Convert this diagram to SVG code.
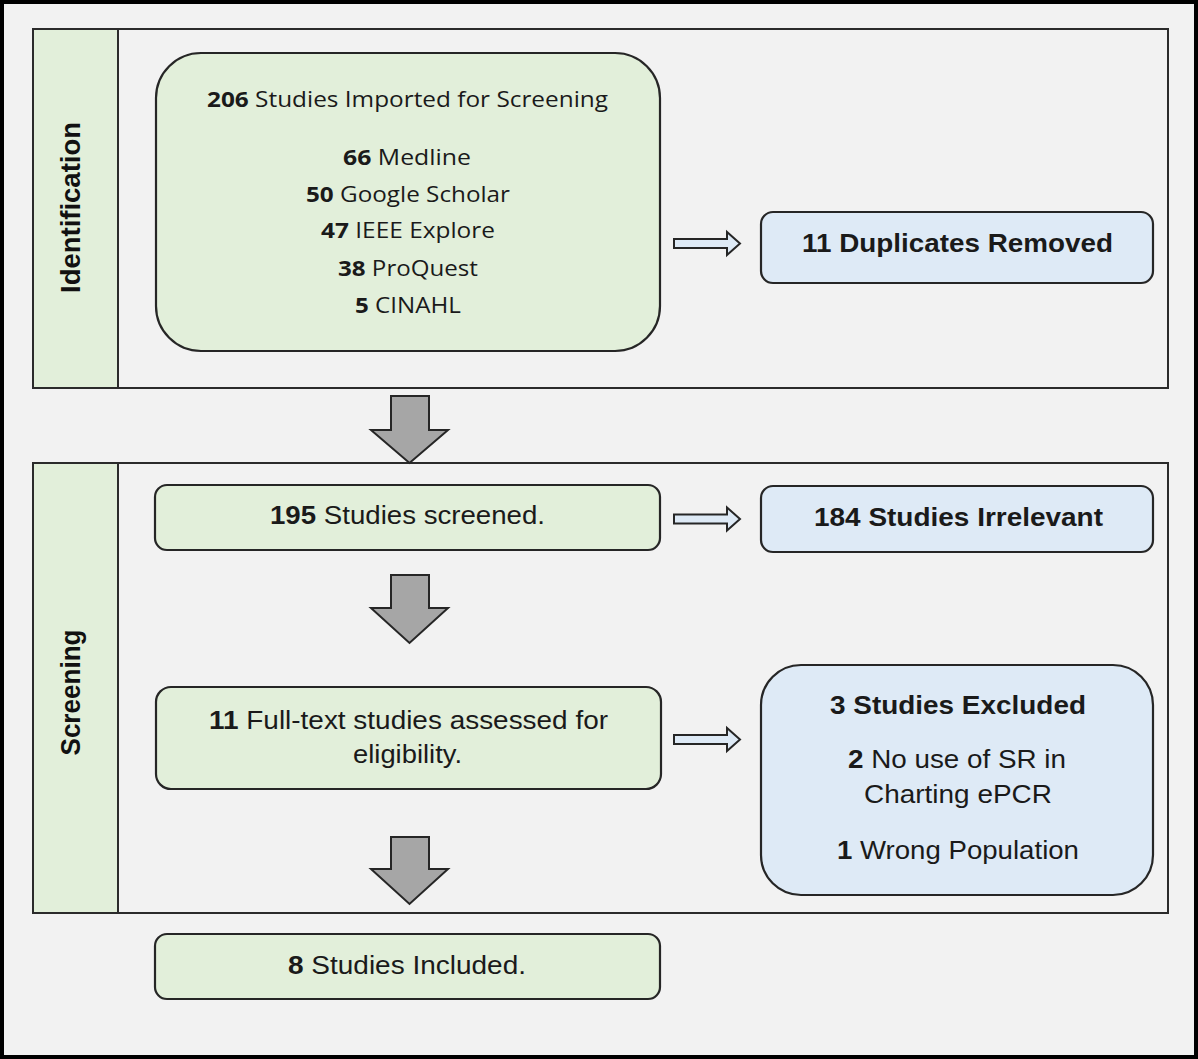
<svg xmlns="http://www.w3.org/2000/svg" xmlns:xlink="http://www.w3.org/1999/xlink" width="1198" height="1059" viewBox="0 0 1198 1059">
<style>
.bg{fill:#f2f2f2}
.panel{fill:#f2f2f2;stroke:#2b2b2b;stroke-width:2}
.strip{fill:#e2efda;stroke:#2b2b2b;stroke-width:2}
.green{fill:#e2efda;stroke:#262626;stroke-width:2.2}
.blue{fill:#deeaf6;stroke:#262626;stroke-width:2.2}
.cal{font-family:"Open Sans","Noto Sans",sans-serif;font-size:22px;fill:#1a1a1a;text-anchor:middle}
.ar{font-family:"Liberation Sans",Arial,sans-serif;font-size:25px;fill:#1a1a1a;text-anchor:middle}
.lbl{font-family:"Liberation Sans",Arial,sans-serif;font-size:28px;font-weight:bold;fill:#111;text-anchor:middle}
.b{font-weight:bold}
.big{fill:#a6a6a6;stroke:#262626;stroke-width:2}
.hol{fill:#deeaf6;stroke:#262626;stroke-width:2}
</style>
<defs>
<path id="hollow" d="M0,-4.5 H53 V-11.5 L66,0 L53,11.5 V4.5 H0 Z"/>
</defs>
<rect class="bg" x="0" y="0" width="1198" height="1059"/>
<rect x="2" y="2" width="1194" height="1055" fill="none" stroke="#000" stroke-width="4"/>

<g id="phase-identification">
<rect class="panel" x="33" y="29" width="1135" height="359"/>
<rect class="strip" x="33" y="29" width="85" height="359"/>
<text class="lbl" transform="translate(80,207.5) rotate(-90)" textLength="171" lengthAdjust="spacingAndGlyphs">Identification</text>
</g>

<g id="phase-screening">
<rect class="panel" x="33" y="463" width="1135" height="450"/>
<rect class="strip" x="33" y="463" width="85" height="450"/>
<text class="lbl" transform="translate(80,692.5) rotate(-90)" textLength="126" lengthAdjust="spacingAndGlyphs">Screening</text>
</g>

<g id="connectors">
<path class="big" d="M391,396 H429 V430 H448 L409.5,463 L371,430 H391 Z"/>
<path class="big" d="M391,575 H429 V608 H448 L409.5,643 L371,608 H391 Z"/>
<path class="big" d="M391,837 H429 V869 H448 L409.5,904 L371,869 H391 Z"/>
<use xlink:href="#hollow" href="#hollow" class="hol" transform="translate(674,243.5)"/>
<use xlink:href="#hollow" href="#hollow" class="hol" transform="translate(674,519)"/>
<use xlink:href="#hollow" href="#hollow" class="hol" transform="translate(674,739.5)"/>
</g>

<g id="node-imported">
<rect class="green" x="156" y="53" width="504" height="298" rx="45"/>
<text class="cal" x="407.5" y="107" textLength="401" lengthAdjust="spacingAndGlyphs"><tspan class="b">206</tspan> Studies Imported for Screening</text>
<text class="cal" x="407" y="165" textLength="128" lengthAdjust="spacingAndGlyphs"><tspan class="b">66</tspan> Medline</text>
<text class="cal" x="408" y="202" textLength="204" lengthAdjust="spacingAndGlyphs"><tspan class="b">50</tspan> Google Scholar</text>
<text class="cal" x="408" y="238" textLength="174" lengthAdjust="spacingAndGlyphs"><tspan class="b">47</tspan> IEEE Explore</text>
<text class="cal" x="408" y="276" textLength="140" lengthAdjust="spacingAndGlyphs"><tspan class="b">38</tspan> ProQuest</text>
<text class="cal" x="408" y="313" textLength="106" lengthAdjust="spacingAndGlyphs"><tspan class="b">5</tspan> CINAHL</text>
</g>

<g id="node-duplicates">
<rect class="blue" x="761" y="212" width="392" height="71" rx="12"/>
<text class="ar b" x="957.5" y="252" textLength="311" lengthAdjust="spacingAndGlyphs">11 Duplicates Removed</text>
</g>

<g id="node-screened">
<rect class="green" x="155" y="485" width="505" height="65" rx="12"/>
<text class="ar" x="407.5" y="524" textLength="275" lengthAdjust="spacingAndGlyphs"><tspan class="b">195</tspan> Studies screened.</text>
</g>

<g id="node-irrelevant">
<rect class="blue" x="761" y="486" width="392" height="66" rx="12"/>
<text class="ar b" x="958.5" y="526" textLength="289" lengthAdjust="spacingAndGlyphs">184 Studies Irrelevant</text>
</g>

<g id="node-fulltext">
<rect class="green" x="156" y="687" width="505" height="102" rx="15"/>
<text class="ar" x="408.5" y="729" textLength="399" lengthAdjust="spacingAndGlyphs"><tspan class="b">11</tspan> Full-text studies assessed for</text>
<text class="ar" x="407.5" y="763" textLength="109" lengthAdjust="spacingAndGlyphs">eligibility.</text>
</g>

<g id="node-excluded">
<rect class="blue" x="761" y="665" width="392" height="230" rx="40"/>
<text class="ar b" x="958" y="714" textLength="256" lengthAdjust="spacingAndGlyphs">3 Studies Excluded</text>
<text class="ar" x="957" y="768" textLength="218" lengthAdjust="spacingAndGlyphs"><tspan class="b">2</tspan> No use of SR in</text>
<text class="ar" x="958" y="803" textLength="188" lengthAdjust="spacingAndGlyphs">Charting ePCR</text>
<text class="ar" x="958" y="859" textLength="242" lengthAdjust="spacingAndGlyphs"><tspan class="b">1</tspan> Wrong Population</text>
</g>

<g id="node-included">
<rect class="green" x="155" y="934" width="505" height="65" rx="12"/>
<text class="ar" x="407" y="974" textLength="238" lengthAdjust="spacingAndGlyphs"><tspan class="b">8</tspan> Studies Included.</text>
</g>
</svg>
